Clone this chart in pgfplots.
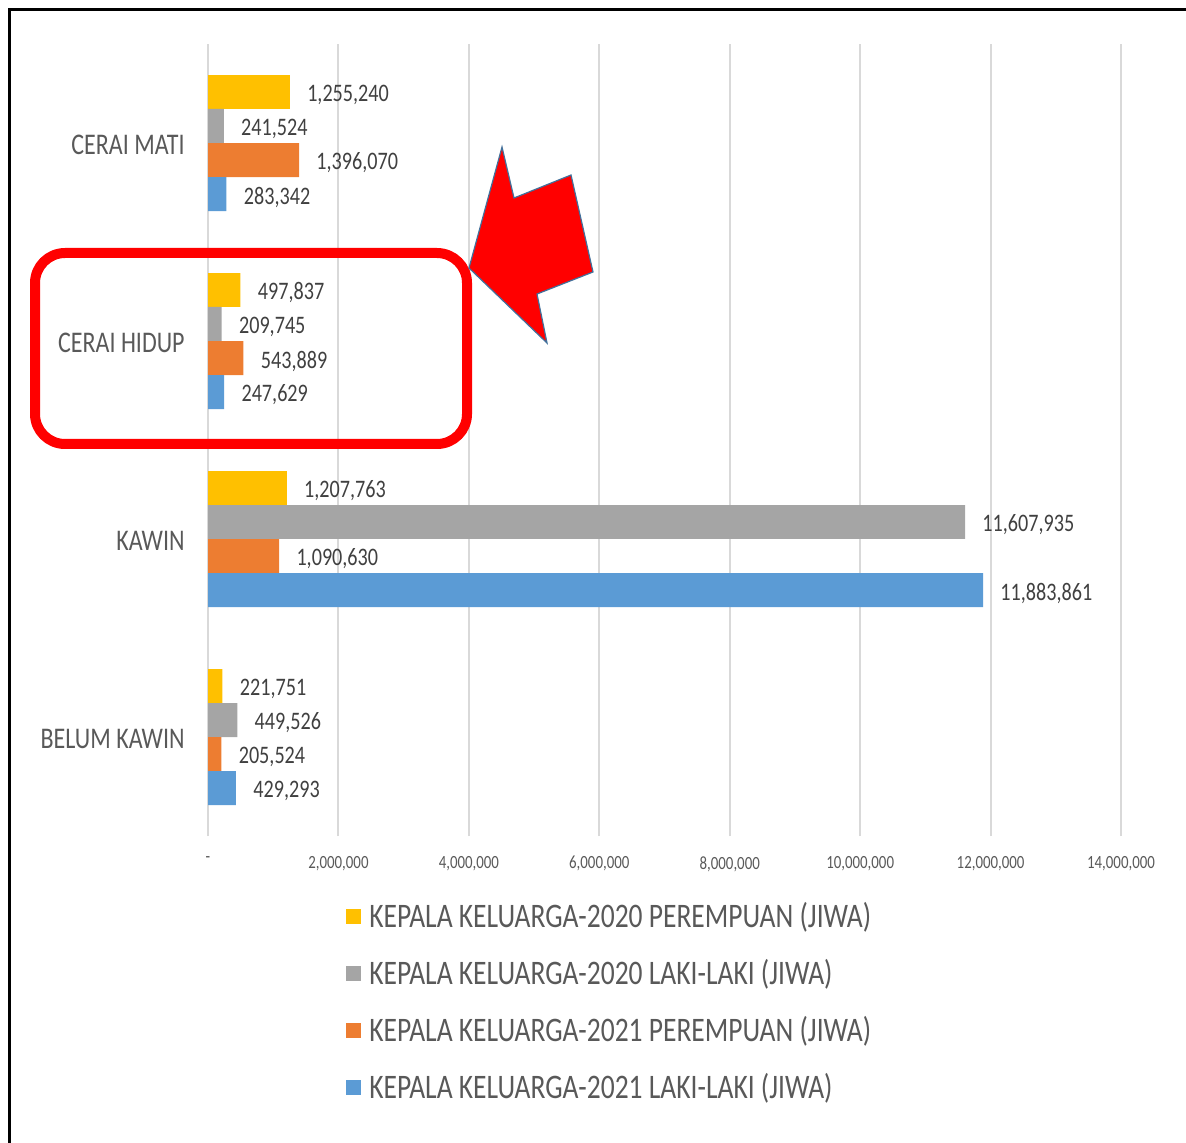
\documentclass[border=0pt]{standalone}
\usepackage{fontspec}
\setmainfont{Carlito}[FakeStretch=0.8]
\usepackage{pgfplots}
\pgfplotsset{compat=1.18}
\definecolor{cY}{HTML}{FFC000}
\definecolor{cG}{HTML}{A5A5A5}
\definecolor{cO}{HTML}{ED7D31}
\definecolor{cB}{HTML}{5B9BD5}
\definecolor{txt}{HTML}{595959}
\definecolor{lab}{HTML}{404040}
\definecolor{grd}{HTML}{D9D9D9}
\definecolor{arrowedge}{HTML}{41719C}
\begin{document}
\begin{tikzpicture}
\path[use as bounding box] (0pt,0pt) rectangle (593pt,-571.5pt);
\begin{axis}[
  at={(104pt,-418pt)}, anchor=south west,
  scale only axis, width=456.5pt, height=396pt,
  xmin=0, xmax=14000000, ymin=-0.5, ymax=3.5,
  xbar, bar width=0.1717, bar shift=0pt,
  xtick={0,2000000,4000000,6000000,8000000,10000000,12000000,14000000},
  xticklabels={{-},{2,000,000},{4,000,000},{6,000,000},{8,000,000},{10,000,000},{12,000,000},{14,000,000}},
  scaled x ticks=false,
  ytick={0,1,2,3},
  yticklabels={BELUM KAWIN,KAWIN,CERAI HIDUP,CERAI MATI},
  xmajorgrids, grid style={color=grd, line width=1pt},
  axis line style={draw=none}, major tick length=0pt, tick style={draw=none},
  yticklabel style={font=\fontsize{15}{17}\selectfont, text=txt, inner sep=0pt, xshift=-11.5pt, yshift=-1pt},
  xticklabel style={font=\fontsize{9.3}{10}\selectfont, text=txt, inner sep=0pt, yshift=-10pt},
  nodes near coords, point meta=explicit symbolic,
  every node near coord/.append style={font=\fontsize{12.6}{14}\selectfont, text=lab, anchor=west, inner sep=0pt, xshift=8.5pt, yshift=-1.5pt},
  legend style={at={(axis description cs:0.1445,-0.2152)}, anchor=west, draw=none, fill=none,
    font=\fontsize{17.2}{18}\selectfont, text=txt, row sep=15.5pt, column sep=4pt,
    nodes={inner sep=0pt, text height=10pt, text depth=3pt}},
  legend cell align=left,
  legend image code/.code={\fill[#1] (0pt,-1.75pt) rectangle (7.5pt,5.75pt);},
]
\addplot[fill=cY, draw=none] table[x=v, y=p, meta=l] {
v p l
1255240 3.2576 1,255,240
497837 2.2576 497,837
1207763 1.2576 1,207,763
221751 0.2576 221,751
};
\addlegendentry{KEPALA KELUARGA-2020 PEREMPUAN (JIWA)}
\addplot[fill=cG, draw=none] table[x=v, y=p, meta=l] {
v p l
241524 3.0859 241,524
209745 2.0859 209,745
11607935 1.0859 11,607,935
449526 0.0859 449,526
};
\addlegendentry{KEPALA KELUARGA-2020 LAKI-LAKI (JIWA)}
\addplot[fill=cO, draw=none] table[x=v, y=p, meta=l] {
v p l
1396070 2.9141 1,396,070
543889 1.9141 543,889
1090630 0.9141 1,090,630
205524 -0.0859 205,524
};
\addlegendentry{KEPALA KELUARGA-2021 PEREMPUAN (JIWA)}
\addplot[fill=cB, draw=none] table[x=v, y=p, meta=l] {
v p l
283342 2.7424 283,342
247629 1.7424 247,629
11883861 0.7424 11,883,861
429293 -0.2576 429,293
};
\addlegendentry{KEPALA KELUARGA-2021 LAKI-LAKI (JIWA)}
\end{axis}
\begin{scope}[x=0.5pt,y=-0.5pt]
\draw[red, line width=5pt, rounded corners=15pt] (35,253) rectangle (467,444);
\filldraw[fill=red, draw=arrowedge, line width=0.6pt] (469,268) -- (502,147) -- (514,198) -- (571,175) -- (593,272) -- (537,294) -- (547,343) -- cycle;
\draw[line width=1.3pt] (9.5,1200) -- (9.5,9.5) -- (1250,9.5);
\end{scope}
\end{tikzpicture}
\end{document}
